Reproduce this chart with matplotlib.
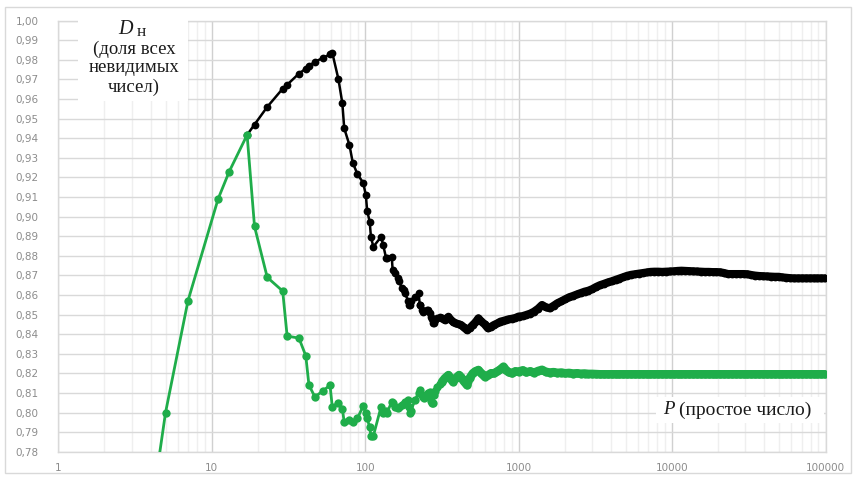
import matplotlib
matplotlib.use("Agg")
import matplotlib.pyplot as plt
from matplotlib.ticker import FixedLocator, NullFormatter, FixedFormatter
from matplotlib.patches import Rectangle

# ---- data ----
p_common = [3, 5, 7, 11, 13, 17]
d_common = [0.680, 0.800, 0.857, 0.909, 0.923, 0.9417]

p_split = [19, 23, 29, 31, 37, 41, 43, 47, 53, 59, 61, 67, 71, 73, 79, 83, 89, 97,
           101, 103, 107, 109, 113, 127, 131, 137, 139, 149, 151, 157, 163, 167, 173,
           179, 181, 191, 193, 197, 199, 211, 223, 227, 229, 233, 239, 241, 251, 257,
           263, 269, 271, 277, 281, 283, 293, 307,
           317, 331, 349, 359, 373, 389, 409, 421, 439, 461, 479, 503, 523, 547, 571,
           601, 631, 661, 691, 727, 761, 797, 829, 863, 907, 953,
           1000, 1060, 1120, 1190, 1260, 1340, 1420, 1500, 1590, 1690, 1790, 1900,
           2010, 2130, 2260, 2400, 2540, 2690, 2850, 3020, 3200, 3390, 3600, 3810,
           4040, 4280, 4540, 4810, 5100, 5410, 5730, 6070, 6440, 6820, 7230, 7670,
           8130, 8610, 9130, 9680, 10260, 10870, 11520, 12210, 12950, 13720, 14550,
           15420, 16340, 17320, 18360, 19460, 20630, 21870, 23180, 24570, 26050,
           27610, 29270, 31020, 32880, 34850, 36950, 39160, 41510, 44000, 46640,
           49440, 52410, 55550, 58890, 62420, 66160, 70130, 74340, 78800, 83530,
           88540, 93850, 99480]

d_black = [0.947, 0.956, 0.9653, 0.9673, 0.973, 0.9755, 0.977, 0.979, 0.981, 0.9828,
           0.9837, 0.970, 0.9578, 0.9451, 0.9365, 0.9275, 0.9217, 0.9173,
           0.911, 0.903, 0.8974, 0.8897, 0.8846, 0.8897, 0.8855, 0.8787, 0.8787,
           0.8795, 0.8727, 0.871, 0.8685, 0.867, 0.8634, 0.8625, 0.8609, 0.857,
           0.8549, 0.8549, 0.857, 0.8591, 0.8609, 0.8549, 0.855, 0.8525, 0.8515,
           0.852, 0.8523, 0.8523, 0.851, 0.849, 0.8475, 0.8455, 0.8455, 0.847,
           0.848, 0.8489,
           0.8480, 0.8472, 0.8489, 0.8475, 0.8464, 0.8455, 0.8450, 0.8447, 0.8435,
           0.8421, 0.8430, 0.8447, 0.8460, 0.8481, 0.8465, 0.8450, 0.8430, 0.8438,
           0.8447, 0.8455, 0.8464, 0.8468, 0.8472, 0.8476, 0.8479, 0.8483,
           0.8490, 0.8492, 0.8498, 0.8505, 0.8515, 0.8530, 0.8549, 0.8538, 0.8532,
           0.8545, 0.8558, 0.8568, 0.8578, 0.8588, 0.8595, 0.8603, 0.8610, 0.8617,
           0.8622, 0.8630, 0.8641, 0.8650, 0.8657, 0.8664, 0.8670, 0.8677, 0.8684,
           0.8691, 0.8698, 0.8703, 0.8706, 0.8709, 0.8712, 0.8715, 0.8718, 0.8719,
           0.8719, 0.8718, 0.8719, 0.8720, 0.8721, 0.8723, 0.8724, 0.8723, 0.8722,
           0.8721, 0.8720, 0.8719, 0.8718, 0.8718, 0.8717, 0.8717, 0.8716, 0.8712,
           0.8707, 0.8707, 0.8707, 0.8707, 0.8707, 0.8706, 0.8702, 0.8699, 0.8697,
           0.8696, 0.8695, 0.8694, 0.8693, 0.8693, 0.8690, 0.8688, 0.8686, 0.8685,
           0.8685, 0.8685, 0.8685, 0.8685, 0.8685, 0.8685, 0.8685, 0.8685]

d_green = [0.895, 0.869, 0.862, 0.839, 0.838, 0.829, 0.814, 0.808, 0.811, 0.814,
           0.803, 0.805, 0.802, 0.795, 0.796, 0.795, 0.797, 0.8033,
           0.800, 0.797, 0.7925, 0.788, 0.788, 0.803, 0.7996, 0.801, 0.800,
           0.8055, 0.805, 0.803, 0.8021, 0.803, 0.8038, 0.8045, 0.8055, 0.8064,
           0.803, 0.7996, 0.801, 0.8064, 0.810, 0.8115, 0.810, 0.809, 0.808,
           0.8072, 0.8085, 0.810, 0.8106, 0.806, 0.805, 0.8047, 0.809, 0.811,
           0.8132, 0.8145,
           0.8157, 0.8175, 0.8191, 0.8175, 0.8157, 0.8175, 0.8191, 0.8180, 0.8160,
           0.8140, 0.8175, 0.8200, 0.8210, 0.8217, 0.8200, 0.8183, 0.8190, 0.8200,
           0.8200, 0.8210, 0.8220, 0.8234, 0.8215, 0.8205, 0.8200, 0.8210,
           0.8208, 0.8215, 0.8205, 0.8210, 0.8203, 0.8212, 0.8218, 0.8208, 0.8204,
           0.8206, 0.8202, 0.8204, 0.8200, 0.8202, 0.8199, 0.8200, 0.8198, 0.8199,
           0.8197, 0.8197, 0.8196, 0.8195, 0.8195, 0.8195, 0.8195, 0.8195, 0.8195,
           0.8195, 0.8195, 0.8195, 0.8195, 0.8195, 0.8195, 0.8195, 0.8195, 0.8195,
           0.8195, 0.8195, 0.8195, 0.8195, 0.8195, 0.8195, 0.8195, 0.8195, 0.8195,
           0.8195, 0.8195, 0.8195, 0.8195, 0.8195, 0.8195, 0.8195, 0.8195, 0.8195,
           0.8195, 0.8195, 0.8195, 0.8195, 0.8195, 0.8195, 0.8195, 0.8195, 0.8195,
           0.8195, 0.8195, 0.8195, 0.8195, 0.8195, 0.8195, 0.8195, 0.8195, 0.8195,
           0.8195, 0.8195, 0.8195, 0.8195, 0.8195, 0.8195, 0.8195, 0.8195]

x_ticks = [1, 10, 100, 1000, 10000, 100000]
x_ticklabels = ["1", "10", "100", "1000", "10000", "100000"]
y_ticks = [0.78 + 0.01 * i for i in range(23)]
y_ticklabels = [("%.2f" % v).replace(".", ",") for v in y_ticks]

# ---- figure ----
W, H = 856, 479
fig = plt.figure(figsize=(W / 100, H / 100), dpi=100)
fig.patches.append(Rectangle((5 / W, 6 / H), (W - 10) / W, (H - 13) / H,
                             transform=fig.transFigure, fill=False,
                             edgecolor="#d9d9d9", linewidth=1.0))
ax = fig.add_axes([58.3 / W, 1 - 451.7 / H, (825.5 - 58.3) / W, (451.7 - 20.7) / H])
ax.set_xscale("log")
ax.set_xlim(1, 100000)
ax.set_ylim(0.78, 1.00)

# grid
ax.set_yticks(y_ticks)
ax.set_yticklabels(y_ticklabels)
ax.xaxis.set_major_locator(FixedLocator(x_ticks))
ax.xaxis.set_major_formatter(FixedFormatter(x_ticklabels))
minors = [m * 10 ** e for e in range(5) for m in range(2, 10)]
ax.xaxis.set_minor_locator(FixedLocator(minors))
ax.xaxis.set_minor_formatter(NullFormatter())
ax.grid(True, which="major", axis="y", color="#d9d9d9", linewidth=1.0)
ax.grid(True, which="major", axis="x", color="#d0d0d0", linewidth=1.0)
ax.grid(True, which="minor", axis="x", color="#efefef", linewidth=1.0)
ax.set_axisbelow(True)
for s in ax.spines.values():
    s.set_color("#d9d9d9")
    s.set_linewidth(1.0)
ax.tick_params(which="both", length=0)
ax.tick_params(axis="y", pad=14, labelsize=7.5, labelcolor="#8c8c8c")
ax.tick_params(axis="x", pad=8, labelsize=7.5, labelcolor="#8c8c8c")

green = "#1fad4a"
bx = p_common[-1:] + p_split
by = d_common[-1:] + d_black
gx = p_common + p_split
gy = d_common + d_green
ax.plot(bx, by, color="black", linewidth=1.8, marker="o", markersize=5.6,
        markeredgewidth=0, zorder=3)
ax.plot(gx, gy, color=green, linewidth=2.0, marker="o", markersize=6.0,
        markeredgewidth=0, zorder=4)

# dense part: overlapping markers in the original merge into a solid band
i0 = p_split.index(317)
ax.plot(p_split[i0:], d_black[i0:], color="black", linewidth=5.8,
        solid_capstyle="round", solid_joinstyle="round", zorder=3)
ax.plot(p_split[i0:], d_green[i0:], color=green, linewidth=6.2,
        solid_capstyle="round", solid_joinstyle="round", zorder=4)

serif = ["Liberation Serif", "DejaVu Serif"]
# top-left label box
ax.add_patch(Rectangle((78 / W, 1 - 101 / H), (188 - 78) / W, 101 / H,
                       transform=fig.transFigure, facecolor="white",
                       edgecolor="none", zorder=5, clip_on=False))
fig.text(125 / W, 1 - 30 / H, "D", family=serif, style="italic", fontsize=14.5,
         ha="center", va="center", color="#1a1a1a", zorder=6)
fig.text(141 / W, 1 - 32 / H, "н", family=serif, fontsize=12.5,
         ha="center", va="center", color="#1a1a1a", zorder=6)
fig.text(134 / W, 1 - 68 / H, "(доля всех\nневидимых\nчисел)", family=serif,
         fontsize=13.5, ha="center", va="center", linespacing=1.15,
         color="#1a1a1a", zorder=6)

# x label
ax.add_patch(Rectangle((656 / W, 1 - 423 / H), (824 - 656) / W, 26 / H,
                       transform=fig.transFigure, facecolor="white",
                       edgecolor="none", zorder=5, clip_on=False))
fig.text(663 / W, 1 - 410 / H, "P", family=serif, style="italic", fontsize=13.5,
         ha="left", va="center", color="#1a1a1a", zorder=6)
fig.text(679 / W, 1 - 410 / H, "(простое число)", family=serif, fontsize=14,
         ha="left", va="center", color="#1a1a1a", zorder=6)

fig.savefig("out.png", dpi=100)
